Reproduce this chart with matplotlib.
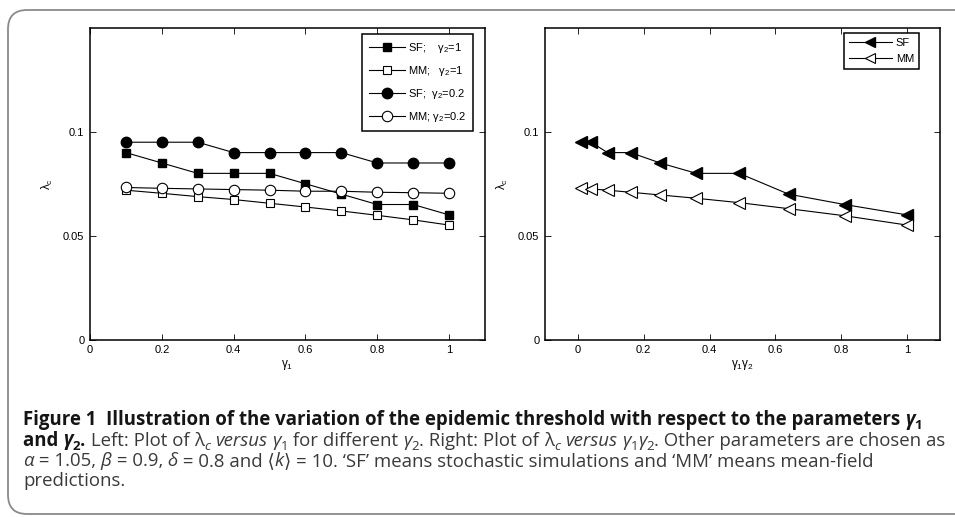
import matplotlib
matplotlib.use('Agg')
import matplotlib.pyplot as plt
from matplotlib.patches import FancyBboxPatch
from matplotlib.font_manager import FontProperties, findfont

# ---------------- data ----------------
gamma1 = [0.1, 0.2, 0.3, 0.4, 0.5, 0.6, 0.7, 0.8, 0.9, 1.0]
sf_g2_1 = [0.090, 0.085, 0.080, 0.080, 0.080, 0.075, 0.070, 0.065, 0.065, 0.060]
mm_g2_1 = [0.0719, 0.0704, 0.0688, 0.0674, 0.0656, 0.0638, 0.0619, 0.0598, 0.0576, 0.0551]
sf_g2_02 = [0.095, 0.095, 0.095, 0.090, 0.090, 0.090, 0.090, 0.085, 0.085, 0.085]
mm_g2_02 = [0.0732, 0.0728, 0.0725, 0.0722, 0.0719, 0.0714, 0.0714, 0.0709, 0.0707, 0.0704]

g1g2 = [0.01, 0.04, 0.09, 0.16, 0.25, 0.36, 0.49, 0.64, 0.81, 1.0]
sf_prod = [0.095, 0.095, 0.090, 0.090, 0.085, 0.080, 0.080, 0.070, 0.065, 0.060]
mm_prod = [0.0728, 0.0725, 0.0719, 0.0709, 0.0696, 0.0680, 0.0659, 0.0630, 0.0596, 0.0551]

xticks = [0, 0.2, 0.4, 0.6, 0.8, 1.0]
xticklabels = ['0', '0.2', '0.4', '0.6', '0.8', '1']
yticks = [0, 0.05, 0.1]
yticklabels = ['0', '0.05', '0.1']

labels_left = ['SF;    $\\mathrm{\\gamma_2}$=1', 'MM;   $\\mathrm{\\gamma_2}$=1',
               'SF;  $\\mathrm{\\gamma_2}$=0.2', 'MM; $\\mathrm{\\gamma_2}$=0.2']
labels_right = ['SF', 'MM']

# ---------------- setup ----------------
W, H, DPI = 955, 517, 100
plt.rcParams['font.family'] = ['Liberation Sans', 'DejaVu Sans']
plt.rcParams['mathtext.fontset'] = 'custom'
plt.rcParams['mathtext.rm'] = 'Liberation Sans'
plt.rcParams['mathtext.it'] = 'Liberation Sans:italic'
plt.rcParams['mathtext.bf'] = 'Liberation Sans:bold'

fig = plt.figure(figsize=(W / DPI, H / DPI), dpi=DPI)
fig.patch.set_facecolor('white')


def px_axes(x0, y0, x1, y1):
    return fig.add_axes([x0 / W, 1 - y1 / H, (x1 - x0) / W, (y1 - y0) / H])


ax1 = px_axes(90, 28, 485, 339.5)
ax2 = px_axes(545, 28, 940, 339.5)

lw = 0.8
ax1.plot(gamma1, sf_g2_1, '-s', color='black', lw=lw, ms=6, mfc='black', mec='black', label=labels_left[0])
ax1.plot(gamma1, mm_g2_1, '-s', color='black', lw=lw, ms=6, mfc='white', mec='black', mew=0.8, label=labels_left[1])
ax1.plot(gamma1, sf_g2_02, '-o', color='black', lw=lw, ms=7.5, mfc='black', mec='black', label=labels_left[2])
ax1.plot(gamma1, mm_g2_02, '-o', color='black', lw=lw, ms=7.5, mfc='white', mec='black', mew=0.8, label=labels_left[3])

ax2.plot(g1g2, sf_prod, '-<', color='black', lw=lw, ms=8, mfc='black', mec='black', label=labels_right[0])
ax2.plot(g1g2, mm_prod, '-<', color='black', lw=lw, ms=8, mfc='white', mec='black', mew=0.8, label=labels_right[1])

for ax, xl in ((ax1, (0, 1.1)), (ax2, (-0.1, 1.1))):
    ax.set_xlim(*xl)
    ax.set_ylim(0, 0.15)
    ax.set_xticks(xticks)
    ax.set_xticklabels(xticklabels)
    ax.set_yticks(yticks)
    ax.set_yticklabels(yticklabels)
    ax.tick_params(direction='in', length=4, width=0.6, top=True, right=True,
                   labelsize=8, pad=4, colors='black')
    for s in ax.spines.values():
        s.set_linewidth(1.1)
    ax.set_ylabel('λ$_\\mathrm{c}$', fontsize=8.5, labelpad=6)

ax1.set_xlabel('γ$_\\mathrm{1}$', fontsize=8.5, labelpad=2)
ax2.set_xlabel('γ$_\\mathrm{1}$γ$_\\mathrm{2}$', fontsize=8.5, labelpad=2)

leg1 = ax1.legend(loc='upper right', bbox_to_anchor=(1 - 12 / 395, 1 - 6 / 311.5),
                  borderaxespad=0, fancybox=False, edgecolor='black', framealpha=1,
                  fontsize=8, handlelength=3.2, handletextpad=0.3, labelspacing=0.82,
                  borderpad=0.6)
leg1.get_frame().set_linewidth(1.1)
leg2 = ax2.legend(loc='upper right', bbox_to_anchor=(1 - 21 / 395, 1 - 5 / 311.5),
                  borderaxespad=0, fancybox=False, edgecolor='black', framealpha=1,
                  fontsize=8, handlelength=3.9, handletextpad=0.35, labelspacing=0.55,
                  borderpad=0.45, markerscale=0.9)
leg2.get_frame().set_linewidth(1.1)

# ---------------- border ----------------
border = FancyBboxPatch((8 / W, 1 - 514 / H), (990 - 8) / W, (514 - 10) / H,
                        boxstyle='round,pad=0,rounding_size=0.02',
                        transform=fig.transFigure, fill=False, edgecolor='#8a8a8a',
                        linewidth=1.3, clip_on=False, mutation_aspect=W / H)
fig.patches.append(border)

# ---------------- caption ----------------
CAP_FONT = 'Open Sans'
for fam in ['Open Sans', 'Noto Sans', 'Lato']:
    try:
        p = findfont(FontProperties(family=fam, style='italic'), fallback_to_default=False)
        if 'italic' in p.lower():
            CAP_FONT = fam
            break
    except Exception:
        pass

renderer = fig.canvas.get_renderer()
BLACK = '#151515'
GREY = '#3a3a3a'


def seg(txt, weight='normal', style='normal', color=GREY, sub=False):
    return dict(txt=txt, weight=weight, style=style, color=color, sub=sub)


def B(t):
    return seg(t, weight='bold', color=BLACK)


def BI(t):
    return seg(t, weight='bold', style='italic', color=BLACK)


def BS(t):
    return seg(t, weight='bold', color=BLACK, sub=True)


def R(t):
    return seg(t)


def I(t):
    return seg(t, style='italic')


def S(t, style='normal'):
    return seg(t, style=style, sub=True)


def advance(s, size):
    kw = dict(fontsize=size * (0.72 if s['sub'] else 1.0), fontweight=s['weight'],
              fontstyle=s['style'], family=[CAP_FONT, 'DejaVu Sans'])
    t1 = fig.text(0, 0, s['txt'] + '|', **kw)
    t2 = fig.text(0, 0, '|', **kw)
    w = t1.get_window_extent(renderer).width - t2.get_window_extent(renderer).width
    t1.remove()
    t2.remove()
    return w


def line_width(segs, size):
    return sum(advance(s, size) for s in segs)


def draw_line(segs, x0, yb, size):
    x = x0
    for s in segs:
        sc = 0.72 if s['sub'] else 1.0
        dy = 0.22 * size * DPI / 72 if s['sub'] else 0
        fig.text(x / W, 1 - (yb + dy) / H, s['txt'], fontsize=size * sc,
                 fontweight=s['weight'], fontstyle=s['style'], color=s['color'],
                 family=[CAP_FONT, 'DejaVu Sans'], va='baseline', ha='left')
        x += advance(s, size)


line1 = [B('Figure 1  Illustration of the variation of the epidemic threshold with respect to the parameters '),
         BI('γ'), BS('1')]
line2 = [B('and '), BI('γ'), BS('2'), B('.'), R(' Left: Plot of '), R('λ'), S('c', 'italic'), R(' '),
         I('versus'), R(' '), I('γ'), S('1'), R(' for different '), I('γ'), S('2'),
         R('. Right: Plot of '), R('λ'), S('c', 'italic'), R(' '), I('versus'), R(' '),
         I('γ'), S('1'), I('γ'), S('2'), R('. Other parameters are chosen as')]
line3 = [I('α'), R(' = 1.05, '), I('β'), R(' = 0.9, '), I('δ'), R(' = 0.8 and ⟨'), I('k'),
         R('⟩ = 10. ‘SF’ means stochastic simulations and ‘MM’ means mean-field')]
line4 = [R('predictions.')]

X0 = 23
base = 11.0
w2 = line_width(line2, base)
size = base * (944 - X0) / w2

draw_line(line1, X0, 425, size)
draw_line(line2, X0, 445.5, size)
draw_line(line3, X0, 466, size)
draw_line(line4, X0, 486.5, size)

fig.savefig('out.png', dpi=DPI, facecolor='white')
